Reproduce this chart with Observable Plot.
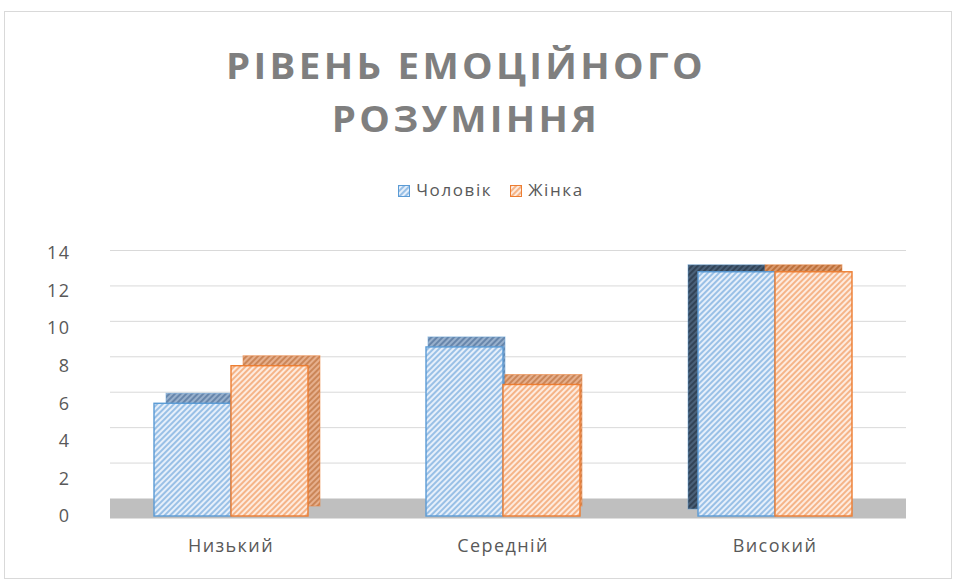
<!DOCTYPE html>
<html>
<head>
<meta charset="utf-8">
<script src="https://cdn.jsdelivr.net/npm/d3@7"></script>
<script src="https://cdn.jsdelivr.net/npm/@observablehq/plot@0.6"></script>
<style>
  html, body { margin: 0; padding: 0; background: #fff; }
  #wrap { position: relative; width: 956px; height: 583px; overflow: hidden; font-family: "Open Sans", sans-serif; }
  #frame { position: absolute; left: 4px; top: 11px; width: 948px; height: 568px; box-sizing: border-box; border: 1px solid #d9d9d9; }
  #title { position: absolute; left: 0; top: 39px; width: 932px; text-align: center; font-weight: 700; font-size: 35px; line-height: 53px; letter-spacing: 3px; color: #7f7f7f; transform: scaleX(1.1); transform-origin: 466px 0; }
  #legend { position: absolute; left: 0; top: 180px; width: 982px; text-align: center; font-size: 17px; line-height: 20px; color: #595959; letter-spacing: 1.6px; }
  #legend .item { display: inline-block; margin: 0 9px; }
  #legend svg { vertical-align: -1px; margin-right: 6px; }
  .layer { position: absolute; left: 0; top: 0; }
</style>
</head>
<body>
<svg width="0" height="0" style="position:absolute">
  <defs>
    <pattern id="hatchBlue" patternUnits="userSpaceOnUse" width="4" height="4" patternTransform="rotate(45)">
      <rect width="4" height="4" fill="#e6effa"></rect>
      <line x1="1" y1="0" x2="1" y2="4" stroke="#86b4e2" stroke-width="1.6"></line>
    </pattern>
    <pattern id="hatchOrange" patternUnits="userSpaceOnUse" width="4" height="4" patternTransform="rotate(45)">
      <rect width="4" height="4" fill="#fdebdf"></rect>
      <line x1="1" y1="0" x2="1" y2="4" stroke="#f4a672" stroke-width="1.6"></line>
    </pattern>
    <pattern id="darkBlue" patternUnits="userSpaceOnUse" width="4" height="4" patternTransform="rotate(45)">
      <rect width="4" height="4" fill="#98b0cc"></rect>
      <line x1="1" y1="0" x2="1" y2="4" stroke="#5b7ba3" stroke-width="1.6"></line>
    </pattern>
    <pattern id="darkOrange" patternUnits="userSpaceOnUse" width="4" height="4" patternTransform="rotate(45)">
      <rect width="4" height="4" fill="#e6b08e"></rect>
      <line x1="1" y1="0" x2="1" y2="4" stroke="#c47b4a" stroke-width="1.6"></line>
    </pattern>
    <pattern id="deepBlue" patternUnits="userSpaceOnUse" width="4" height="4" patternTransform="rotate(45)">
      <rect width="4" height="4" fill="#4a6078"></rect>
      <line x1="1" y1="0" x2="1" y2="4" stroke="#2c3c4e" stroke-width="1.6"></line>
    </pattern>
    <pattern id="deepOrange" patternUnits="userSpaceOnUse" width="4" height="4" patternTransform="rotate(45)">
      <rect width="4" height="4" fill="#d9996e"></rect>
      <line x1="1" y1="0" x2="1" y2="4" stroke="#b5672f" stroke-width="1.6"></line>
    </pattern>
  </defs>
</svg>
<div id="wrap">
  <div id="frame"></div>
  <div id="title">РІВЕНЬ ЕМОЦІЙНОГО<br>РОЗУМІННЯ</div>
  <div id="legend"></div>
</div>
<script>
// ---- data ----
const categories = ["Низький", "Середній", "Високий"];
const seriesNames = ["Чоловік", "Жінка"];
const male = [6, 9, 13];
const female = [8, 7, 13];
const yTicks = [0, 2, 4, 6, 8, 10, 12, 14];

// ---- derived table ----
const valuesBySeries = [male, female];
const rows = [];
categories.forEach((c, i) => seriesNames.forEach((s, j) => rows.push({category: c, series: s, value: valuesBySeries[j][i]})));

const frontFill = {"Чоловік": "url(#hatchBlue)", "Жінка": "url(#hatchOrange)"};
const backFill = {"Чоловік": "url(#darkBlue)", "Жінка": "url(#darkOrange)"};
const sideFill = {"Чоловік": "url(#deepBlue)", "Жінка": "url(#deepOrange)"};
const strokeCol = {"Чоловік": "#5b9bd5", "Жінка": "#ed7d31"};
const depthDx = {"Низький": 12, "Середній": 2, "Високий": -10};
const depthDy = {"Низький": -10, "Середній": -10, "Високий": -7};

const W = 956, H = 583;
const wrap = document.getElementById("wrap");

// legend
const legend = document.getElementById("legend");
seriesNames.forEach(s => {
  const it = document.createElement("span");
  it.className = "item";
  it.innerHTML = `<svg width="12" height="12"><rect x="0.5" y="0.5" width="11" height="11" fill="${frontFill[s]}" stroke="${strokeCol[s]}" stroke-width="1"></rect></svg>${s}`;
  legend.appendChild(it);
});

// back wall: gridlines + floor
const back = Plot.plot({
  width: W, height: H,
  marginTop: 250, marginBottom: 85, marginLeft: 110, marginRight: 50,
  style: {background: "transparent", overflow: "visible"},
  y: {domain: [0, 14], axis: null},
  marks: [
    Plot.ruleY(yTicks.filter(t => t > 0), {stroke: "#d9d9d9", strokeWidth: 1}),
    Plot.ruleY([0], {stroke: "#bfbfbf", strokeWidth: 20, dy: 10})
  ]
});
back.classList.add("layer");
wrap.appendChild(back);

// front bars with a depth box behind each
const marks = [];
categories.forEach(c => {
  seriesNames.forEach(s => {
    const fill = depthDx[c] < 0 ? sideFill[s] : backFill[s];
    marks.push(Plot.barY(rows.filter(d => d.category === c && d.series === s), {
      fx: "category", x: "series", y: "value",
      fill, stroke: strokeCol[s], strokeOpacity: 0.5, strokeWidth: 1,
      dx: depthDx[c], dy: depthDy[c]
    }));
  });
});
seriesNames.forEach(s => {
  marks.push(Plot.barY(rows.filter(d => d.series === s), {
    fx: "category", x: "series", y: "value",
    fill: frontFill[s], stroke: strokeCol[s], strokeWidth: 1.4
  }));
});

const front = Plot.plot({
  width: W, height: H,
  marginTop: 253, marginBottom: 67, marginLeft: 80, marginRight: 31,
  style: {background: "transparent", fontFamily: "Open Sans, sans-serif", fontSize: "18px", color: "#595959", overflow: "visible", letterSpacing: "1.4px"},
  fx: {domain: categories, paddingInner: 0.1, paddingOuter: 0.1, axis: "bottom", tickSize: 0, tickPadding: 23, label: null},
  x: {domain: seriesNames, paddingInner: 0, paddingOuter: 0.59, axis: null},
  y: {domain: [0, 14], ticks: yTicks, tickSize: 0, tickPadding: 38, label: null},
  marks
});
front.classList.add("layer");
wrap.appendChild(front);
</script>
</body>
</html>
